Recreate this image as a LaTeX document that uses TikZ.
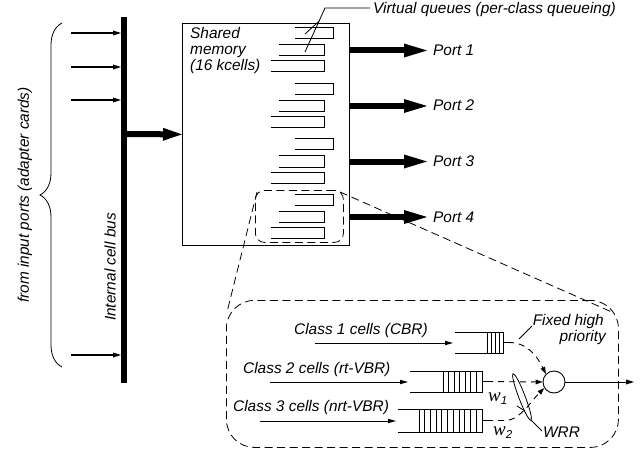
\documentclass[tikz,border=0pt]{standalone}
\usepackage{fontspec}
\setmainfont{Liberation Sans}
\newfontfamily\serifw{Liberation Serif}
\usetikzlibrary{arrows.meta,decorations.pathreplacing,calc}
\begin{document}
\begin{tikzpicture}[x=1pt,y=-1pt,
  lbl/.style={font=\fontsize{15.4}{16}\selectfont\itshape, inner sep=0pt},
  hair/.style={line width=0.8pt},
  qline/.style={line width=1pt},
  busline/.style={line width=6pt},
  fatarrow/.style={line width=6pt,-{Triangle[length=19pt,width=13pt,line width=0pt]}},
  portarrow/.style={line width=6pt,-{Triangle[length=23pt,width=14pt,line width=0pt]}},
  feed/.style={line width=1.3pt,-{Triangle[length=8pt,width=5pt,line width=0pt]}},
  cellarrow/.style={line width=1pt,-{Triangle[length=8pt,width=4.5pt,line width=0pt]}},
  zoomline/.style={line width=0.8pt, dash pattern=on 8pt off 4.5pt},
  sched/.style={line width=0.9pt, dash pattern=on 6pt off 5pt, -{Triangle[length=7pt,width=5pt,line width=0pt]}},
  wlbl/.style={inner sep=0pt, anchor=base west},
]
\useasboundingbox (0,0) rectangle (644,457);

% ---------- internal cell bus and input ports ----------
\coordinate (bustop) at (124,17);
\coordinate (busbot) at (124,383);
\draw[busline] (bustop) -- (busbot);
\foreach \i/\y in {1/33,2/67,3/100,4/355} {
  \coordinate (src\i) at (71,\y);
  \coordinate (tap\i) at (121,\y);
  \draw[feed] (src\i) -- (tap\i);
}
\draw[hair, decorate, decoration={brace, amplitude=22pt}] (62,367) -- (62,23);
\node[lbl, rotate=90] (inlbl) at (25,195) {from input ports (adapter cards)};
\node[lbl, rotate=90] (buslbl) at (110,267) {Internal cell bus};

% ---------- shared memory ----------
\node[draw, hair, minimum width=167pt, minimum height=222pt, anchor=north west, inner sep=0pt] (mem) at (182,23) {};
\coordinate (busout) at (124,134);
\draw[fatarrow] (busout) -- (mem.west);
\node[lbl, anchor=base west] (memA) at (190,39) {Shared};
\node[lbl, anchor=base west] (memB) at (190,55) {memory};
\node[lbl, anchor=base west] (memC) at (190,71) {(16 kcells)};

% virtual queues, three per output port
\foreach \g in {0,1,2,3} {
  \pgfmathsetmacro\o{55.5*\g}
  \draw[qline] (295,{28+\o}) -- (333,{28+\o}) -- (333,{39+\o}) -- (295,{39+\o});
  \draw[qline] (279,{45+\o}) -- (324,{45+\o}) -- (324,{56+\o}) -- (279,{56+\o});
  \draw[qline] (271,{61+\o}) -- (324,{61+\o}) -- (324,{72+\o}) -- (271,{72+\o});
}
\node[lbl, anchor=base west] (vqlbl) at (373,14) {Virtual queues (per-class queueing)};
\coordinate (vqa) at (370,8);
\coordinate (vqb) at (325,8);
\coordinate (vqc) at (305,52);
\coordinate (vqd) at (305,34);
\draw[hair] (vqa) -- (vqb) -- (vqc);
\draw[hair] ($(vqb)!0.3!(vqc)$) -- (vqd);

% output ports
\foreach \n/\y in {1/50.5,2/106,3/161.5,4/217} {
  \coordinate (pout\n) at (349,\y);
  \coordinate (pend\n) at (427,\y);
  \draw[portarrow] (pout\n) -- (pend\n);
  \node[lbl, anchor=base west] (port\n) at (433,{\y+5}) {Port \n};
}

% ---------- zoomed detail of one port ----------
\node[draw, zoomline, rounded corners=9pt, minimum width=88pt, minimum height=52pt, anchor=north west, inner sep=0pt] (zsrc) at (255,190) {};
\node[draw, zoomline, rounded corners=28pt, minimum width=392pt, minimum height=147pt, anchor=north west, inner sep=0pt] (zdst) at (226,300) {};
\coordinate (zl1) at (257,192);
\coordinate (zl2) at (227,312);
\coordinate (zr1) at (340,192);
\coordinate (zr2) at (614,313);
\draw[zoomline] (zl1) -- (zl2);
\draw[zoomline] (zr1) -- (zr2);

% class 1 queue
\coordinate (c1s) at (315,343);
\coordinate (c1e) at (453,343);
\draw[cellarrow] (c1s) -- (c1e);
\node[lbl, anchor=base west] (c1lbl) at (294,334) {Class 1 cells (CBR)};
\draw[qline] (455,332) -- (503,332) -- (503,353) -- (455,353);
\foreach \x in {487,491,495,499} \draw[qline] (\x,332) -- (\x,353);
\coordinate (q1o) at (503,342.5);
\coordinate (q1t) at (508,342.5);
\draw[qline] (q1o) -- (q1t);

% class 2 queue
\coordinate (c2s) at (270,382);
\coordinate (c2e) at (408,382);
\draw[cellarrow] (c2s) -- (c2e);
\node[lbl, anchor=base west] (c2lbl) at (243,373) {Class 2 cells (rt-VBR)};
\draw[qline] (410,371) -- (482,371) -- (482,392) -- (410,392);
\foreach \k in {0,...,6} \draw[qline] ({443+5.57*\k},371) -- ({443+5.57*\k},392);
\coordinate (q2o) at (482,381.5);
\coordinate (q2t) at (487,381.5);
\draw[qline] (q2o) -- (q2t);

% class 3 queue
\coordinate (c3s) at (260,421);
\coordinate (c3e) at (396,421);
\draw[cellarrow] (c3s) -- (c3e);
\node[lbl, anchor=base west] (c3lbl) at (233,411) {Class 3 cells (nrt-VBR)};
\draw[qline] (398,409) -- (482,409) -- (482,432) -- (398,432);
\foreach \k in {0,...,10} \draw[qline] ({419+5.73*\k},409) -- ({419+5.73*\k},432);
\coordinate (q3o) at (482,420.5);
\coordinate (q3t) at (487,420.5);
\draw[qline] (q3o) -- (q3t);

% scheduler
\node[circle, draw, line width=0.9pt, minimum size=22pt, inner sep=0pt] (srv) at (554,382) {};
\coordinate (outend) at (634,382);
\draw[line width=0.9pt, -{Triangle[length=8pt,width=5pt,line width=0pt]}] (srv.east) -- (outend);
\draw[sched] (q1t) .. controls (527,342) and (537,356) .. (srv.135);
\draw[sched] (q2t) -- (srv.west);
\coordinate (q3k) at (506,420.5);
\draw[sched] (q3t) -- (q3k) .. controls (520,420) and (532,400) .. (srv.212);

% WRR loop and labels
\draw[hair, shift={(522,397)}, rotate=21] (0,0) ellipse [x radius=3.2, y radius=25];
\coordinate (wrrA) at (531,420);
\coordinate (wrrB) at (542,431);
\draw[hair] (wrrA) -- (wrrB);
\coordinate (tkA) at (517,406);
\coordinate (tkB) at (525,411);
\draw[hair] (tkA) -- (tkB);
\node[lbl, anchor=base west] (wrr) at (543,437) {WRR};
\node[wlbl] (w1) at (488,401) {{\serifw\itshape\fontsize{19}{19}\selectfont w}\raisebox{-3pt}{\fontsize{11.5}{11.5}\selectfont\itshape 1}};
\node[wlbl] (w2) at (493,435) {{\serifw\itshape\fontsize{19}{19}\selectfont w}\raisebox{-3pt}{\fontsize{11.5}{11.5}\selectfont\itshape 2}};

\node[lbl, anchor=base east] (fhA) at (604,325) {Fixed high};
\node[lbl, anchor=base east] (fhB) at (606,341) {priority};
\coordinate (fhl1) at (532,326);
\coordinate (fhl2) at (519,339);
\draw[hair] (fhl1) -- (fhl2);
\end{tikzpicture}
\end{document}
